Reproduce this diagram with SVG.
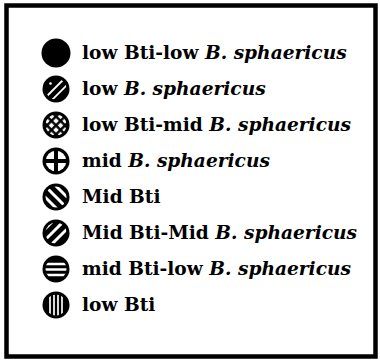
<svg xmlns="http://www.w3.org/2000/svg" width="380" height="360" viewBox="0 0 380 360">
<style>
.lbl{font-family:"DejaVu Serif","Liberation Serif",serif;font-weight:bold;font-size:18.6px;fill:#000}
.it{font-style:italic}
.wl{stroke:#fff;fill:none}
</style>
<defs>
<clipPath id="ci" clipPathUnits="userSpaceOnUse"><circle cx="0" cy="0" r="10.5"/></clipPath>
<pattern id="diam" width="6.4" height="6.4" patternUnits="userSpaceOnUse" patternTransform="rotate(45)">
<rect x="1.5" y="1.5" width="3.9" height="3.9" fill="#fff"/>
</pattern>
</defs>
<rect x="6.5" y="5.5" width="369" height="351" fill="#fff" stroke="#000" stroke-width="4.5"/>
<g id="row1" transform="translate(56,53)">
<circle r="14.5" fill="#000"/>
<text class="lbl" x="26" y="6">low Bti-low <tspan class="it">B. sphaericus</tspan></text>
</g>
<g id="row2" transform="translate(56,89)">
<circle r="13.5" fill="#000"/>
<g clip-path="url(#ci)" class="wl" stroke-width="1.8">
<line x1="-9" y1="9" x2="9" y2="-9" transform="translate(-1,-1)"/>
<line x1="-9" y1="9" x2="9" y2="-9" transform="translate(3.5,3.5)"/>
</g>
<circle cx="-5.5" cy="-5.5" r="1.3" fill="#fff"/>
<text class="lbl" x="26" y="6">low <tspan class="it">B. sphaericus</tspan></text>
</g>
<g id="row3" transform="translate(56,125)">
<circle r="13.5" fill="#000"/>
<circle r="10.5" fill="url(#diam)"/>
<text class="lbl" x="26" y="6">low Bti-mid <tspan class="it">B. sphaericus</tspan></text>
</g>
<g id="row4" transform="translate(56,161)">
<circle r="13.5" fill="#000"/>
<circle r="10.3" fill="#fff"/>
<rect x="-2" y="-12" width="4" height="24" fill="#000"/>
<rect x="-12" y="-2" width="24" height="4" fill="#000"/>
<text class="lbl" x="26" y="6">mid <tspan class="it">B. sphaericus</tspan></text>
</g>
<g id="row5" transform="translate(56,197)">
<circle r="13.5" fill="#000"/>
<g clip-path="url(#ci)" class="wl" stroke-width="3">
<line x1="-12" y1="-12" x2="12" y2="12" transform="translate(-5.5,5.5)"/>
<line x1="-12" y1="-12" x2="12" y2="12"/>
<line x1="-12" y1="-12" x2="12" y2="12" transform="translate(5.5,-5.5)"/>
</g>
<text class="lbl" x="26" y="6">Mid Bti</text>
</g>
<g id="row6" transform="translate(56,233)">
<circle r="13.5" fill="#000"/>
<g clip-path="url(#ci)" class="wl" stroke-width="3">
<line x1="-12" y1="12" x2="12" y2="-12" transform="translate(-7.5,-7.5)"/>
<line x1="-12" y1="12" x2="12" y2="-12" transform="translate(-2,-2)"/>
<line x1="-12" y1="12" x2="12" y2="-12" transform="translate(3.5,3.5)"/>
<line x1="-12" y1="12" x2="12" y2="-12" transform="translate(9,9)"/>
</g>
<text class="lbl" x="26" y="6">Mid Bti-Mid <tspan class="it">B. sphaericus</tspan></text>
</g>
<g id="row7" transform="translate(56,269)">
<circle r="13.5" fill="#000"/>
<g clip-path="url(#ci)" class="wl" stroke-width="2.4">
<line x1="-12" y1="-5" x2="12" y2="-5"/>
<line x1="-12" y1="0.5" x2="12" y2="0.5"/>
<line x1="-12" y1="6" x2="12" y2="6"/>
</g>
<text class="lbl" x="26" y="6">mid Bti-low <tspan class="it">B. sphaericus</tspan></text>
</g>
<g id="row8" transform="translate(56,305)">
<circle r="13.5" fill="#000"/>
<g clip-path="url(#ci)" class="wl" stroke-width="1.7">
<line x1="-6" y1="-12" x2="-6" y2="12"/>
<line x1="-2" y1="-12" x2="-2" y2="12"/>
<line x1="2" y1="-12" x2="2" y2="12"/>
<line x1="6" y1="-12" x2="6" y2="12"/>
</g>
<text class="lbl" x="26" y="6">low Bti</text>
</g>
</svg>
